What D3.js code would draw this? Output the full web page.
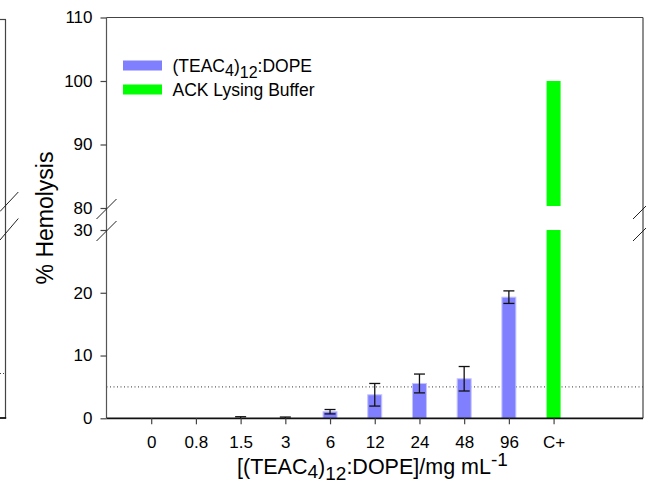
<!DOCTYPE html>
<html><head><meta charset="utf-8">
<script src="https://cdn.jsdelivr.net/npm/d3@7"></script>
<style>
html,body{margin:0;padding:0;background:#fff;}
svg{display:block;font-family:"Liberation Sans",Arial,sans-serif;}
</style></head>
<body>
<svg id="c" width="646" height="485"></svg>
<script>
// ---------- data ----------
const categories = ["0","0.8","1.5","3","6","12","24","48","96","C+"];
const hemolysis  = [0, 0, 0, 0, 1.05, 3.75, 5.55, 6.3, 19.3, 100];
const errors     = [null, null, 0.25, 0.2, 0.35, 1.8, 1.5, 1.95, 1.0, null];
const groups     = ["lipid","lipid","lipid","lipid","lipid","lipid","lipid","lipid","lipid","control"];
const lowerTicks = [0, 10, 20, 30];
const upperTicks = [80, 90, 100, 110];
const threshold  = 5;
const legendLabels = ["lipid","control"];

const colors = {lipid:"#8080ff", control:"#00ff00"};

const svg = d3.select("#c");
const L = 106.5, R = 643, T = 17.5, B = 418.3;
const lowTop = 230, upBot = 208;

const x = d3.scalePoint().domain(categories).range([L, R - (R - L) / 12]).padding(1);
const yLow = d3.scaleLinear().domain([0, 30]).range([B, lowTop]);
const yUp  = d3.scaleLinear().domain([80, 110]).range([upBot, T]);

const barW = 14;

// ---- left neighbour panel fragment ----
const lp = svg.append("g");
lp.append("line").attr("x1",5.5).attr("x2",5.5).attr("y1",19.5).attr("y2",418).attr("stroke","#444").attr("stroke-width",1.2);
lp.append("line").attr("x1",0).attr("x2",6).attr("y1",19.5).attr("y2",19.5).attr("stroke","#444").attr("stroke-width",1.2);
lp.append("line").attr("x1",0).attr("x2",6.2).attr("y1",418).attr("y2",418).attr("stroke","#111").attr("stroke-width",1.8);
lp.append("line").attr("x1",0).attr("x2",5).attr("y1",373.5).attr("y2",373.5).attr("stroke","#444").attr("stroke-width",1).attr("stroke-dasharray","1,2");
[[0,211.5,18.3,192],[0,240,18.3,218.5]].forEach(d=>{
  lp.append("line").attr("x1",d[0]).attr("y1",d[1]).attr("x2",d[2]).attr("y2",d[3]).attr("stroke","#222").attr("stroke-width",1);
});

// ---- threshold line ----
svg.append("line").attr("x1",L).attr("x2",R).attr("y1",yLow(threshold)).attr("y2",yLow(threshold))
  .attr("stroke","#333").attr("stroke-width",1).attr("stroke-dasharray","1,2.5");

// ---- bars ----
const data = categories.map((c,i)=>({c, v:hemolysis[i], e:errors[i], g:groups[i]}));
const bars = svg.append("g");
data.forEach(d=>{
  if (d.v <= 0) return;
  const cx = x(d.c);
  const vLow = Math.min(d.v, 30);
  bars.append("rect").attr("x",cx-barW/2).attr("width",barW)
    .attr("y",yLow(vLow)).attr("height",B-yLow(vLow))
    .attr("fill",colors[d.g])
    .attr("stroke", d.g==="lipid" ? "#c4c4ff" : "none").attr("stroke-width",1);
  if (d.v > 80) {
    bars.append("rect").attr("x",cx-barW/2).attr("width",barW)
      .attr("y",yUp(d.v)).attr("height",upBot-2-yUp(d.v))
      .attr("fill",colors[d.g]);
  }
});

// ---- error bars ----
const eg = svg.append("g").attr("stroke","#111").attr("stroke-width",1.3);
data.forEach(d=>{
  if (d.e == null) return;
  const cx = x(d.c);
  const hi = yLow(d.v + d.e);
  const lo = Math.min(B, yLow(d.v - d.e));
  eg.append("line").attr("x1",cx).attr("x2",cx).attr("y1",hi).attr("y2",lo);
  eg.append("line").attr("x1",cx-5.5).attr("x2",cx+5.5).attr("y1",hi).attr("y2",hi);
  if (d.v - d.e > 0) eg.append("line").attr("x1",cx-5.5).attr("x2",cx+5.5).attr("y1",lo).attr("y2",lo);
});

// ---- frame ----
svg.append("line").attr("x1",L).attr("x2",R).attr("y1",T).attr("y2",T).attr("stroke","#444").attr("stroke-width",1.2);
svg.append("line").attr("x1",R).attr("x2",R).attr("y1",T).attr("y2",B).attr("stroke","#444").attr("stroke-width",1.2);
svg.append("line").attr("x1",L).attr("x2",L).attr("y1",T).attr("y2",B).attr("stroke","#555").attr("stroke-width",1.2);
svg.append("line").attr("x1",L).attr("x2",R).attr("y1",B).attr("y2",B).attr("stroke","#111").attr("stroke-width",1.8);

// ---- y axes ----
function yAxis(scale, ticks){
  const g = svg.append("g").attr("transform",`translate(${L},0)`)
    .call(d3.axisLeft(scale).tickValues(ticks).tickSize(6).tickPadding(8).tickSizeOuter(0));
  g.select(".domain").remove();
  g.selectAll(".tick line").attr("stroke","#444").attr("stroke-width",1.2);
  g.selectAll(".tick text").attr("fill","#000").style("font-size","17px").style("font-family","Liberation Sans, Arial, sans-serif");
  return g;
}
yAxis(yLow, lowerTicks);
yAxis(yUp, upperTicks);

// ---- x axis ----
const xg = svg.append("g").attr("transform",`translate(0,${B})`)
  .call(d3.axisBottom(x).tickSize(6).tickPadding(12).tickSizeOuter(0));
xg.select(".domain").remove();
xg.selectAll(".tick line").attr("stroke","#444").attr("stroke-width",1.2);
xg.selectAll(".tick text").attr("fill","#000").style("font-size","17px").style("font-family","Liberation Sans, Arial, sans-serif");

// ---- break marks ----
[[L,209],[L,231],[R,209],[R,231]].forEach(p=>{
  svg.append("line").attr("x1",p[0]-10).attr("y1",p[1]+10).attr("x2",p[0]+10).attr("y2",p[1]-10)
    .attr("stroke","#222").attr("stroke-width",1);
});

// ---- axis titles ----
svg.append("text").attr("transform","translate(53,218) rotate(-90)")
  .attr("text-anchor","middle").style("font-size","23px").attr("fill","#000").text("% Hemolysis");

const xt = svg.append("text").attr("x",237).attr("y",474).style("font-size","21.5px").attr("fill","#000");
xt.append("tspan").text("[(TEAC");
xt.append("tspan").attr("dy",4).style("font-size","19px").text("4");
xt.append("tspan").attr("dy",-4).text(")");
xt.append("tspan").attr("dy",6).style("font-size","19px").text("12");
xt.append("tspan").attr("dy",-6).text(":DOPE]/mg mL");
xt.append("tspan").attr("dy",-8).style("font-size","19px").text("-1");

// ---- legend ----
const lg = svg.append("g");
const legY = [65.5, 89.5];
legendLabels.forEach((k,i)=>{
  lg.append("rect").attr("x",123).attr("y",legY[i]-5).attr("width",39).attr("height",10).attr("fill",colors[k]);
});
const t1 = lg.append("text").attr("x",172.5).attr("y",legY[0]+6).style("font-size","17.5px").attr("fill","#000");
t1.append("tspan").text("(TEAC");
t1.append("tspan").attr("dy",4).style("font-size","16px").text("4");
t1.append("tspan").attr("dy",-4).text(")");
t1.append("tspan").attr("dy",6).style("font-size","16px").text("12");
t1.append("tspan").attr("dy",-6).text(":DOPE");
lg.append("text").attr("x",172.5).attr("y",legY[1]+6).style("font-size","17.5px").attr("fill","#000").text("ACK Lysing Buffer");
</script>
</body></html>
